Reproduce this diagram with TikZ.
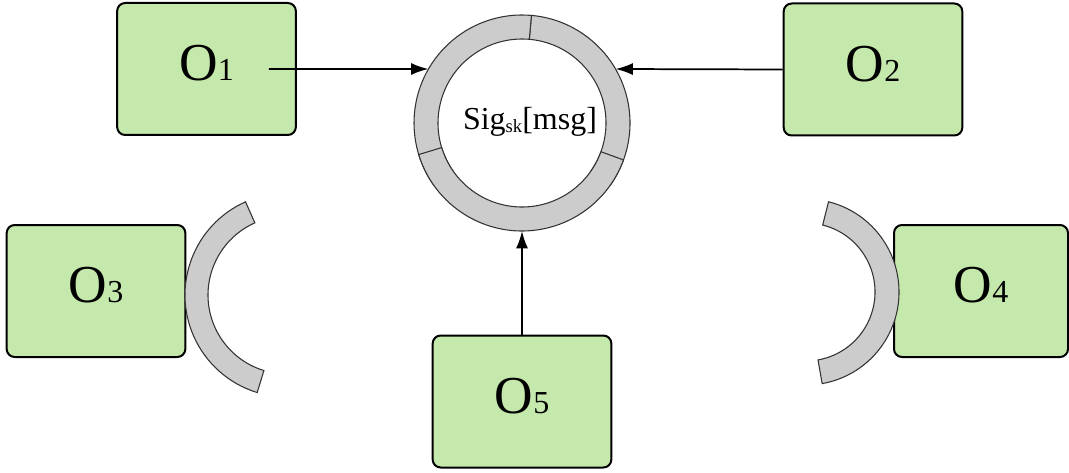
\documentclass[tikz,border=0pt]{standalone}
\usepackage{fontspec}
\setmainfont{Liberation Serif}
\usetikzlibrary{arrows.meta,calc}
\definecolor{boxgreen}{RGB}{197,232,172}
\definecolor{shellgray}{RGB}{204,204,204}
\definecolor{shellline}{RGB}{51,51,51}
% one piece of a ring: centre, from, to, outer radius, inner radius
\newcommand{\shellseg}[5]{%
  \filldraw [shellpart] ($(#1)+(#2:#4)$) arc (#2:#3:#4) -- ($(#1)+(#3:#5)$) arc (#3:#2:#5) -- cycle;}
\newcommand{\obj}[1]{{\fontsize{40}{40}\selectfont O}{\fontsize{24}{24}\selectfont #1}}

\begin{document}
\begin{tikzpicture}[x=0.75pt,y=0.75pt,
    obox/.style={draw=black, line width=1.5pt, fill=boxgreen, rounded corners=6pt,
      minimum width=134pt, minimum height=99pt, inner sep=0pt, text depth=9pt},
    shellpart/.style={fill=shellgray, draw=shellline, line width=0.8pt},
    link/.style={draw=black, line width=1.3pt, -{Latex[length=13pt,width=9pt]}}]
    \useasboundingbox (0,0) rectangle (1069,472);
    % parties
    \node [obox] (o1) at (206.5,403) {\obj{1}};
    \node [obox] (o2) at (873,402.5) {\obj{2}};
    \node [obox] (o3) at (96,181) {\obj{3}};
    \node [obox, minimum width=130.5pt] (o4) at (981,181) {\obj{4}};
    \node [obox] (o5) at (522,70.5) {\obj{5}};
    % the signature ring
    \coordinate (c) at (522,349);
    \shellseg{c}{-35}{85}{108}{84}
    \shellseg{c}{85}{215}{108}{84}
    \shellseg{c}{197}{340}{108}{84}
    \node [circle, minimum size=162pt, inner sep=0pt, outer sep=0pt] (sig) at (c) {};
    \node (sigtxt) at (530,350) {\fontsize{24}{24}\selectfont Sig\raisebox{-2pt}{\fontsize{14}{14}\selectfont sk}[msg]};
    % loose pieces
    \coordinate (lc) at (287,177);
    \shellseg{lc}{114}{253}{102}{79}
    \coordinate (rc) at (806,180);
    \shellseg{rc}{-80}{76}{93}{69}
    % arrows
    \coordinate (o1out) at ([xshift=-21pt]o1.east);
    \draw [link] (o1out) -- (sig.150);
    \draw [link] (o2.west) -- (sig.30);
    \draw [link] (o5.north) -- (sig.south);
\end{tikzpicture}
\end{document}
